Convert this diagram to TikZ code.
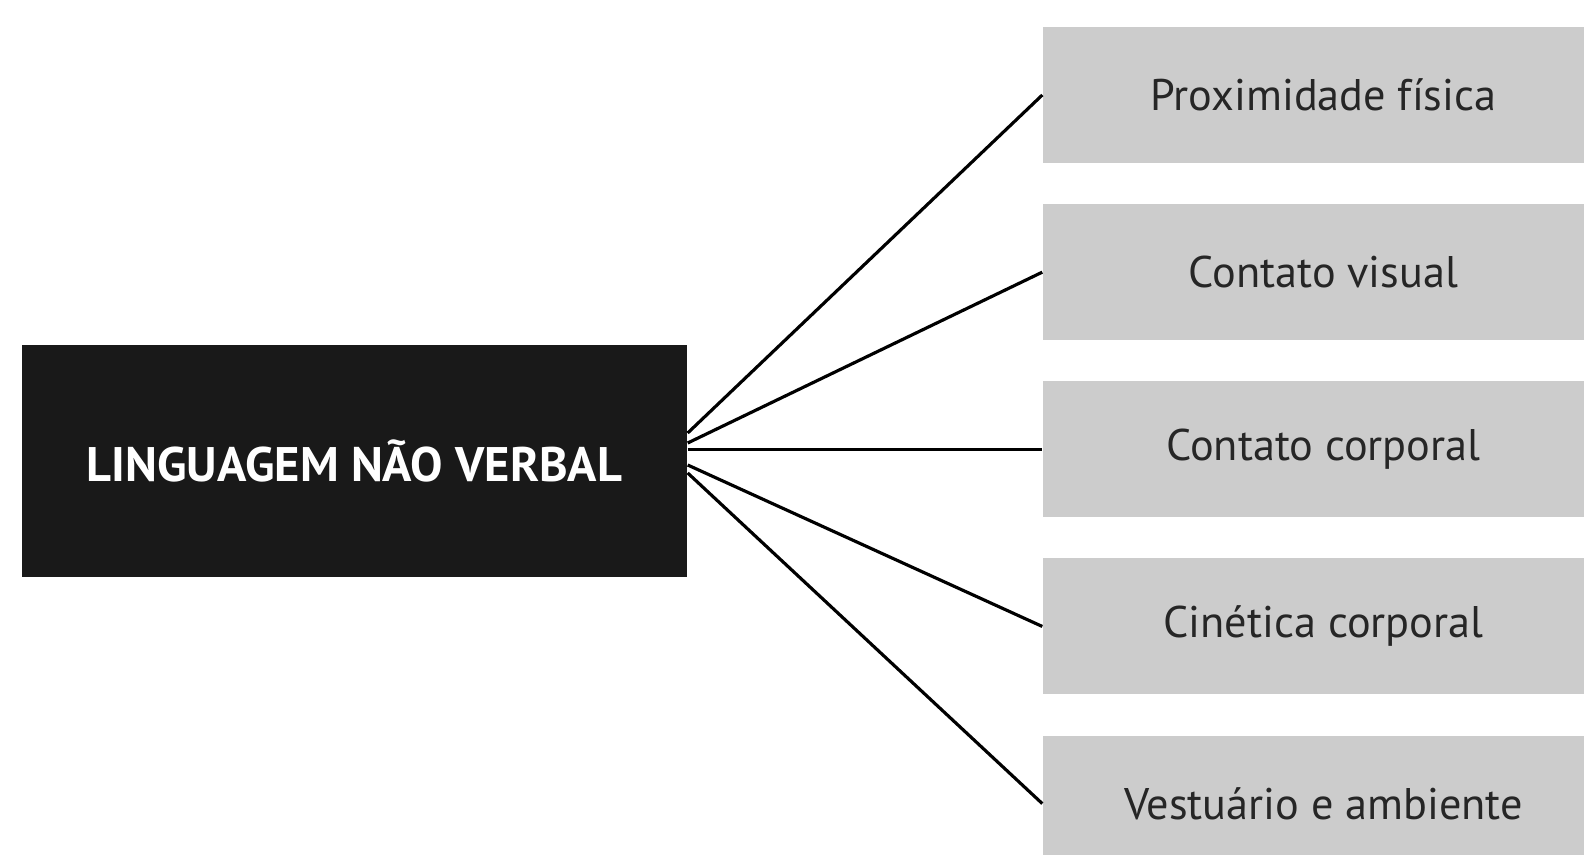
\documentclass[tikz,border=0pt]{standalone}
\usepackage{fontspec}
\setmainfont{PT Sans}
\usetikzlibrary{calc}
\usetikzlibrary{positioning}

\begin{document}
\begin{tikzpicture}[node distance=0.3975cm,
  root/.style = {shape=rectangle, fill=black!90, text=white,
    minimum width=6.65cm, minimum height=2.32cm,
    font=\bfseries\fontsize{13.8}{16}\selectfont},
  aspect/.style = {shape=rectangle, fill=black!20, text=black!85,
    minimum width=5.41cm, minimum height=1.36cm, inner sep=0pt,
    execute at begin node=\hspace*{0.2cm},
    font=\fontsize{12.6}{15}\selectfont},
  link/.style = {line width=0.9pt}]
  \useasboundingbox (0,0) rectangle (15.84,-8.55);

  \node[root] (lnv) at (3.545,-4.61) {LINGUAGEM NÃO VERBAL};

  \node[aspect] (prox) at (13.135,-0.95) {Proximidade física};
  \node[aspect, below=of prox] (visual) {Contato visual};
  \node[aspect, below=of visual] (corpo) {Contato corporal};
  \node[aspect, below=of corpo] (kine) {Cinética corporal};
  \node[aspect, below=of kine] (vest) {Vestuário e ambiente};

  \draw[link] ([yshift=0.28cm]lnv.east) -- (prox.west);
  \draw[link] ([yshift=0.18cm]lnv.east) -- (visual.west);
  \draw[link] (lnv.east |- corpo.west) -- (corpo.west);
  \draw[link] ([yshift=-0.04cm]lnv.east) -- (kine.west);
  \draw[link] ([yshift=-0.12cm]lnv.east) -- (vest.west);
\end{tikzpicture}
\end{document}
